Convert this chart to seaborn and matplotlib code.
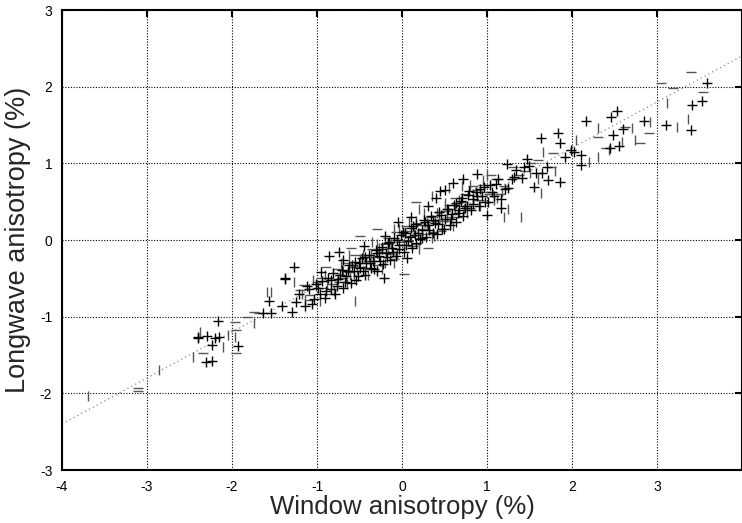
import numpy as np
import pandas as pd
import matplotlib
matplotlib.use("Agg")
import matplotlib.pyplot as plt
import seaborn as sns

# points, grouped by marker shape
plus_x = [2.53, 2.46, 2.17, 3.59, 3.53, 3.41, 3.10, 3.40, 2.85, 2.60, 2.48, 2.55, 2.45,
          2.10, 2.02, 1.92, 2.10, 1.63, 1.83, 1.86, 1.55, 1.86, 1.72, 1.23, 1.47, 0.45,
          1.00, 1.17, 1.99, 1.65, 1.70,
          -2.17, -2.40, -2.29, -2.20, -2.15, -2.23, -2.31, -2.24, -1.93, -2.40, -1.64,
          -1.54, -1.38, -1.27, -1.56, -1.41, -1.29, -1.38, -0.74, -0.86, -0.21, 0.06,
          -1.25, -1.21, -1.14, -1.09, -1.04, -1.01, -0.97, -0.94, -0.91, -0.87, -0.84,
          -0.81, -0.77, -0.75, -0.71, -0.69, -0.66, -0.62, -0.60, -0.57, -0.55, -0.52,
          -0.49, -0.47, -0.44, -0.42, -0.39, -0.37, -0.34, -0.31, -0.29, -0.27, -0.24,
          -0.22, -0.19, -0.17, -0.14, -0.12, -0.09, -0.07, -0.04, -0.01, 0.02, 0.04,
          0.07, 0.10, 0.12, 0.15, 0.17, 0.21, 0.23, 0.26, 0.28, 0.31, 0.34, 0.36, 0.39,
          0.42, 0.44, 0.47, 0.51, 0.53, 0.56, 0.59, 0.61, 0.64, 0.67, 0.69, 0.72, 0.76,
          0.78, 0.81, 0.84, 0.87, 0.91, 0.94, 0.97, 1.01, 1.06, 1.11, 1.16, 1.21, 1.29,
          1.34, 1.41, 1.49, 1.58]
plus_y = [1.68, 1.60, 1.55, 2.05, 1.81, 1.76, 1.50, 1.43, 1.55, 1.45, 1.37, 1.23, 1.20,
          1.11, 1.15, 1.08, 0.98, 1.33, 1.39, 1.27, 0.69, 0.76, 0.78, 0.99, 1.06, 0.64,
          0.33, 0.42, 1.17, 0.88, 0.95,
          -1.06, -1.28, -1.25, -1.28, -1.26, -1.37, -1.59, -1.58, -1.38, -1.27, -0.95,
          -0.95, -0.51, -0.35, -0.80, -0.86, -0.94, -0.50, -0.16, -0.21, -0.50, -0.24,
          -0.81, -0.70, -0.86, -0.64, -0.77, -0.58, -0.70, -0.53, -0.75, -0.49, -0.64,
          -0.43, -0.60, -0.51, -0.39, -0.63, -0.47, -0.33, -0.56, -0.40, -0.29, -0.47,
          -0.36, -0.24, -0.45, -0.30, -0.19, -0.37, -0.27, -0.13, -0.41, -0.21, -0.09,
          -0.31, -0.17, -0.04, -0.26, -0.11, 0.03, -0.21, -0.07, 0.06, -0.16, 0.09,
          -0.01, 0.16, -0.11, 0.06, 0.21, 0.01, 0.13, 0.26, 0.04, 0.19, 0.31, 0.09, 0.22,
          0.21, 0.36, 0.14, 0.27, 0.41, 0.19, 0.34, 0.46, 0.24, 0.39, 0.51, 0.31, 0.45,
          0.59, 0.39, 0.53, 0.63, 0.44, 0.57, 0.69, 0.49, 0.63, 0.73, 0.54, 0.67, 0.79,
          0.91, 0.81, 0.96, 0.87]

# more '+' points in the dense core of the cloud
plus_core_x = [-1.12, -1.06, -0.99, -0.90, -0.83, -0.79,
               -0.73, -0.67, -0.64, -0.59, -0.54, -0.51,
               -0.46, -0.43, -0.38, -0.33, -0.30, -0.26,
               -0.23, -0.18, -0.15, -0.11, -0.06, -0.03,
               0.01, 0.05, 0.09, 0.13, 0.16, 0.19,
               0.24, 0.27, 0.32, 0.37, 0.41, 0.46,
               0.49, 0.54, 0.58, 0.63, 0.66, 0.71,
               0.74, 0.79, 0.83, 0.88, 0.92, 0.98,
               1.03, 1.08, 1.13, 1.25, 1.32, 1.44,
               0.40, 0.50, 0.60, 0.30, 0.10, -0.05,
               -0.20, -0.45, -0.70, -0.95, 0.72, 0.88]
plus_core_y = [-0.60, -0.83, -0.62, -0.66, -0.52, -0.70,
               -0.46, -0.55, -0.40, -0.33, -0.52, -0.30,
               -0.41, -0.22, -0.30, -0.38, -0.17, -0.28,
               -0.12, -0.22, -0.02, -0.16, 0.00, -0.12,
               0.10, -0.07, 0.04, 0.18, -0.04, 0.09,
               0.02, 0.23, 0.13, 0.26, 0.08, 0.32,
               0.14, 0.40, 0.27, 0.48, 0.35, 0.55,
               0.42, 0.64, 0.47, 0.58, 0.67, 0.50,
               0.72, 0.58, 0.80, 0.68, 0.82, 0.95,
               0.55, 0.65, 0.74, 0.45, 0.30, 0.24,
               0.05, -0.08, -0.26, -0.42, 0.80, 0.86]

dash_x = [3.40, 3.05, 3.19, 3.54, 2.90, 2.80, 1.78, 0.16, -2.34, -1.95, -1.97, -1.95,
          -1.82, -1.68, -1.74, -1.15, -3.11, -3.11, -0.30, -0.50, 0.02, 2.62,
          -1.20, -1.10, -1.00, -0.93, -0.85, -0.77, -0.70, -0.62, -0.55, -0.48, -0.40,
          -0.35, -0.27, -0.20, -0.14, -0.07, 0.00, 0.05, 0.10, 0.17, 0.22, 0.28, 0.34,
          0.40, 0.46, 0.52, 0.57, 0.62, 0.68, 0.74, 0.80, 0.88, 0.95, 1.02, 1.10, 1.20,
          1.30, 1.45, 1.52, 1.75, 2.30, 2.40, 0.30, -0.60, -0.90,
          -1.08, -0.95, -0.82, -0.74, -0.66, -0.58,
          -0.45, -0.38, -0.31, -0.22, -0.16, -0.09,
          -0.02, 0.07, 0.13, 0.19, 0.25, 0.36,
          0.43, 0.49, 0.55, 0.65, 0.72, 0.83,
          0.90, 0.98, 1.05, 1.15, 1.38, 1.60]
dash_y = [2.19, 2.05, 1.98, 1.93, 1.39, 1.26, 1.13, 0.50, -1.47, -1.47, -1.07, -1.17,
          -1.00, -0.95, -0.94, -0.59, -1.93, -1.97, 0.14, 0.05, -0.44, 1.48,
          -0.65, -0.78, -0.55, -0.62, -0.70, -0.38, -0.50, -0.42, -0.20, -0.35, -0.28,
          -0.12, -0.32, -0.05, -0.18, 0.10, 0.00, 0.18, 0.05, -0.05, 0.20, 0.08, 0.30,
          0.25, 0.12, 0.38, 0.30, 0.55, 0.45, 0.60, 0.42, 0.65, 0.72, 0.60, 0.80, 0.70,
          0.95, 0.90, 1.00, 0.95, 1.35, 1.20, -0.10, -0.10, -0.35,
          -0.72, -0.50, -0.58, -0.55, -0.30, -0.35,
          -0.20, -0.38, -0.22, -0.15, 0.02, -0.25,
          -0.02, 0.12, -0.08, 0.22, 0.15, 0.10,
          0.36, 0.25, 0.46, 0.30, 0.50, 0.70,
          0.52, 0.62, 0.85, 0.60, 0.85, 1.05]

bar_x = [3.12, 3.24, 3.36, 2.92, 2.70, 2.74, 2.59, 2.43, 2.31, 2.31, 1.64, 1.66, -2.38,
         -2.11, -2.46, -1.97, -2.05, -1.74, -1.59, -1.54, -1.27, -3.70, -2.86, 1.40,
         1.20, -0.55,
         -1.18, -1.05, -0.97, -0.88, -0.80, -0.72, -0.65, -0.57, -0.50, -0.43, -0.36,
         -0.30, -0.24, -0.17, -0.10, -0.04, 0.02, 0.08, 0.14, 0.20, 0.26, 0.32, 0.38,
         0.44, 0.50, 0.56, 0.62, 0.70, 0.76, 0.84, 0.92, 1.00, 1.08, 1.18, 1.25, 1.60,
         1.80, 2.05, 2.20,
         -1.14, -1.01, -0.91, -0.76, -0.69, -0.61,
         -0.53, -0.46, -0.40, -0.33, -0.27, -0.20,
         -0.13, -0.06, 0.04, 0.11, 0.17, 0.23,
         0.29, 0.35, 0.41, 0.47, 0.53, 0.60,
         0.67, 0.73, 0.80, 0.95, 1.12, 1.50,
         0.35, 0.55, 0.20, -0.10, -0.35, -0.62]
bar_y = [1.79, 1.47, 1.58, 1.54, 1.46, 1.30, 1.28, 1.17, 1.08, 1.46, 0.61, 1.15, -1.20,
         -1.39, -1.52, -1.26, -1.24, -1.08, -0.68, -0.68, -0.55, -2.03, -1.69, 0.30,
         0.30, -0.80,
         -0.70, -0.52, -0.80, -0.58, -0.66, -0.30, -0.58, -0.48, -0.25, -0.40, -0.18,
         -0.05, -0.38, -0.12, -0.30, 0.15, -0.05, 0.25, 0.10, -0.12, 0.35, 0.15, 0.05,
         0.30, 0.48, 0.20, 0.40, 0.70, 0.35, 0.60, 0.45, 0.85, 0.52, 0.62, 0.40, 0.80,
         0.90, 1.30, 1.02,
         -0.78, -0.60, -0.45, -0.55, -0.40, -0.45,
         -0.38, -0.20, -0.45, -0.25, -0.10, -0.30,
         -0.05, -0.18, 0.10, -0.02, 0.25, 0.08,
         0.22, 0.02, 0.35, 0.22, 0.30, 0.18,
         0.52, 0.40, 0.72, 0.78, 0.55, 0.88,
         0.58, 0.68, 0.40, 0.14, -0.02, -0.20]

# fitted line end points
fit_x = [-4.0, 4.0]
fit_y = [-2.4, 2.4]

x_ticks = [-4, -3, -2, -1, 0, 1, 2, 3]
y_ticks = [-3, -2, -1, 0, 1, 2, 3]

sns.set_style("white")
plt.rcParams['font.family'] = ['Liberation Sans', 'DejaVu Sans']

fig = plt.figure(figsize=(7.42, 5.23), dpi=100)
ax = fig.add_axes([62 / 742, 1 - 470 / 523, 1 - 62 / 742, 460 / 523])

sns.lineplot(x=fit_x, y=fit_y, ax=ax, color="#888888", linewidth=0.9,
             linestyle=(0, (1, 2.5)), zorder=2)

sns.scatterplot(x=bar_x, y=bar_y, ax=ax, marker="|", s=60, color="#555555",
                linewidth=1.0, zorder=3)
sns.scatterplot(x=dash_x, y=dash_y, ax=ax, marker="_", s=60, color="#555555",
                linewidth=1.0, zorder=3)
sns.scatterplot(x=plus_x + plus_core_x, y=plus_y + plus_core_y, ax=ax, marker="+",
                s=55, color="black", linewidth=1.0, zorder=4)

ax.set_xlim(-4, 4)
ax.set_ylim(-3, 3)
ax.set_xticks(x_ticks)
ax.set_yticks(y_ticks)
ax.set_xticklabels([str(t) for t in x_ticks])
ax.set_yticklabels([str(t) for t in y_ticks])

ax.grid(True, color="black", linewidth=0.8, linestyle=(0, (1, 1.5)))
ax.set_axisbelow(True)
ax.tick_params(direction="in", length=5, width=1.5, labelsize=10, pad=7,
               top=True, right=True, colors="black")
for side in ["top", "left", "bottom", "right"]:
    ax.spines[side].set_color("black")
    ax.spines[side].set_linewidth(1.5)

ax.set_xlabel("Window anisotropy (%)", fontsize=18.5, labelpad=1)
ax.set_ylabel("Longwave anisotropy (%)", fontsize=19.5, labelpad=6)

fig.savefig("out.png", dpi=100)
